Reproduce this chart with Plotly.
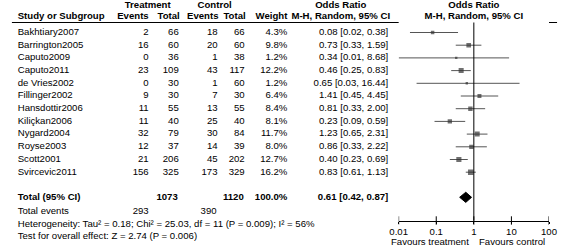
import plotly.graph_objects as go
import math

# ---------------- data ----------------
studies = ["Bakhtiary2007", "Barrington2005", "Caputo2009", "Caputo2011", "de Vries2002",
           "Fillinger2002", "Hansdottir2006", "Kiliçkan2006", "Nygard2004", "Royse2003",
           "Scott2001", "Svircevic2011"]
trt_events = [2, 16, 0, 23, 0, 9, 11, 11, 32, 12, 21, 156]
trt_total = [66, 60, 36, 109, 30, 30, 55, 40, 79, 37, 206, 325]
ctl_events = [18, 20, 1, 43, 1, 7, 13, 25, 30, 14, 45, 173]
ctl_total = [66, 60, 38, 117, 60, 30, 55, 40, 84, 39, 202, 329]
weights = [4.3, 9.8, 1.2, 12.2, 1.2, 6.4, 8.4, 8.1, 11.7, 8.0, 12.7, 16.2]
or_est = [0.08, 0.73, 0.34, 0.46, 0.65, 1.41, 0.81, 0.23, 1.23, 0.86, 0.40, 0.83]
or_lo = [0.02, 0.33, 0.01, 0.25, 0.03, 0.45, 0.33, 0.09, 0.65, 0.33, 0.23, 0.61]
or_hi = [0.38, 1.59, 8.68, 0.83, 16.44, 4.45, 2.00, 0.59, 2.31, 2.22, 0.69, 1.13]
total_or, total_lo, total_hi = 0.61, 0.42, 0.87
total_trt_n, total_ctl_n = 1073, 1120
total_trt_events, total_ctl_events = 293, 390
total_weight = 100.0
heterogeneity = "Heterogeneity: Tau² = 0.18; Chi² = 25.03, df = 11 (P = 0.009); I² = 56%"
overall = "Test for overall effect: Z = 2.74 (P = 0.006)"
tick_vals = [0.01, 0.1, 1, 10, 100]
tick_labels = ["0.01", "0.1", "1", "10", "100"]
left_label, right_label = "Favours treatment", "Favours control"

# ---------------- layout constants ----------------
W, H = 567, 248
ROW0, ROWH = 32.5, 12.7          # pixel centre of first row, row height
def row_of(px):
    return (px - ROW0) / ROWH

FONT = "Arial, 'Liberation Sans', sans-serif"
FS = 9.6
BLACK = "#000000"

rows = list(range(len(studies)))
r_total, r_events, r_het, r_test = row_of(197.3), row_of(211.5), row_of(224.2), row_of(236.9)
r_head1, r_head2 = row_of(5.5), row_of(16.8)
r_rule = row_of(22.5)
AXIS_PX = 220.5
r_axis = row_of(AXIS_PX)

fig = go.Figure()

def col(x, ys, texts, pos="middle left", bold=False, xaxis="x"):
    t = [("<b>%s</b>" % s) if bold else str(s) for s in texts]
    fig.add_trace(go.Scatter(x=[x] * len(ys), y=ys, mode="text", text=t,
                             textposition=pos, xaxis=xaxis, yaxis="y",
                             textfont=dict(family=FONT, size=FS, color=BLACK),
                             hoverinfo="skip", showlegend=False, cliponaxis=False))

# header rows
col(143, [r_head1], ["Treatment"], "middle center", True)
col(212, [r_head1], ["Control"], "middle center", True)
col(342, [r_head1], ["Odds Ratio"], "middle center", True)
col(9, [r_head2], ["Study or Subgroup"], "middle right", True)
col(144, [r_head2], ["Events"], "middle left", True)
col(176, [r_head2], ["Total"], "middle left", True)
col(216, [r_head2], ["Events"], "middle left", True)
col(244, [r_head2], ["Total"], "middle left", True)
col(287, [r_head2], ["Weight"], "middle left", True)
col(342, [r_head2], ["M-H, Random, 95% CI"], "middle center", True)

# study rows
col(9, rows, studies, "middle right")
col(144, rows, trt_events)
col(175, rows, trt_total)
col(215, rows, ctl_events)
col(243, rows, ctl_total)
col(287, rows, ["%.1f%%" % w for w in weights])
col(391, rows, ["%.2f [%.2f, %.2f]" % (e, l, h) for e, l, h in zip(or_est, or_lo, or_hi)])

# totals
col(9, [r_total], ["Total (95% CI)"], "middle right", True)
col(174, [r_total], [total_trt_n], bold=True)
col(242, [r_total], [total_ctl_n], bold=True)
col(287, [r_total], ["%.1f%%" % total_weight], bold=True)
col(391, [r_total], ["%.2f [%.2f, %.2f]" % (total_or, total_lo, total_hi)], bold=True)
col(9, [r_events], ["Total events"], "middle right")
col(144, [r_events], [total_trt_events])
col(214, [r_events], [total_ctl_events])
col(9, [r_het], [heterogeneity], "middle right")
col(9, [r_test], [overall], "middle right")

# header rule
fig.add_trace(go.Scatter(x=[3, 565], y=[r_rule, r_rule], mode="lines", xaxis="x", yaxis="y",
                         line=dict(color=BLACK, width=1), hoverinfo="skip", showlegend=False))

# forest header
col(1, [r_head1], ["Odds Ratio"], "middle center", True, "x2")
col(1, [r_head2], ["M-H, Random, 95% CI"], "middle center", True, "x2")

# confidence intervals
cx, cy = [], []
for r, l, h in zip(rows, or_lo, or_hi):
    cx += [l, h, None]
    cy += [r, r, None]
fig.add_trace(go.Scatter(x=cx, y=cy, mode="lines", xaxis="x2", yaxis="y",
                         line=dict(color="#555555", width=1), hoverinfo="skip", showlegend=False))
# squares
fig.add_trace(go.Scatter(x=or_est, y=rows, mode="markers", xaxis="x2", yaxis="y",
                         marker=dict(symbol="square", color="#333333",
                                     size=[1.2 + 1.1 * math.sqrt(w) for w in weights],
                                     line=dict(width=0)),
                         hoverinfo="skip", showlegend=False))
# null line
fig.add_trace(go.Scatter(x=[1, 1], y=[r_rule, r_axis], mode="lines", xaxis="x2", yaxis="y",
                         line=dict(color=BLACK, width=1), hoverinfo="skip", showlegend=False))
# diamond
dh = 0.4
fig.add_trace(go.Scatter(x=[total_lo, total_or, total_hi, total_or, total_lo],
                         y=[r_total, r_total - dh, r_total, r_total + dh, r_total],
                         mode="lines", fill="toself", fillcolor=BLACK, xaxis="x2", yaxis="y",
                         line=dict(color=BLACK, width=1), hoverinfo="skip", showlegend=False))
# upward tick halves
fig.add_trace(go.Scatter(x=tick_vals, y=[r_axis] * len(tick_vals), mode="markers",
                         xaxis="x2", yaxis="y",
                         marker=dict(symbol="line-ns", size=6, line=dict(color=BLACK, width=1)),
                         hoverinfo="skip", showlegend=False))

x_lo_px, x_hi_px = 401.7, 556.7
fig.update_layout(
    width=W, height=H, autosize=False,
    margin=dict(l=0, r=0, t=0, b=0),
    paper_bgcolor="white", plot_bgcolor="white",
    font=dict(family=FONT, size=FS, color=BLACK),
    xaxis=dict(range=[0, W], domain=[0, 1], visible=False, fixedrange=True),
    yaxis=dict(range=[row_of(H), row_of(0)], domain=[0, 1], visible=False, fixedrange=True),
    xaxis2=dict(type="log", range=[math.log10(tick_vals[0]), math.log10(tick_vals[-1])],
                domain=[x_lo_px / W, x_hi_px / W], anchor="free", position=1 - AXIS_PX / H,
                showline=True, linecolor=BLACK, linewidth=1, showgrid=False, zeroline=False,
                ticks="outside", ticklen=2, tickcolor=BLACK, tickwidth=1,
                tickvals=tick_vals, ticktext=tick_labels,
                tickfont=dict(family=FONT, size=FS, color=BLACK), fixedrange=True),
    showlegend=False,
    annotations=[
        dict(x=0, y=row_of(241.5), xref="x2", yref="y", text=left_label, showarrow=False,
             xanchor="right", yanchor="middle", xshift=-3,
             font=dict(family=FONT, size=FS, color=BLACK)),
        dict(x=0, y=row_of(241.5), xref="x2", yref="y", text=right_label, showarrow=False,
             xanchor="left", yanchor="middle", xshift=3,
             font=dict(family=FONT, size=FS, color=BLACK)),
    ],
)

fig.write_html("out.html", config={"displayModeBar": False, "staticPlot": True},
               post_script="document.body.style.margin='0';")
